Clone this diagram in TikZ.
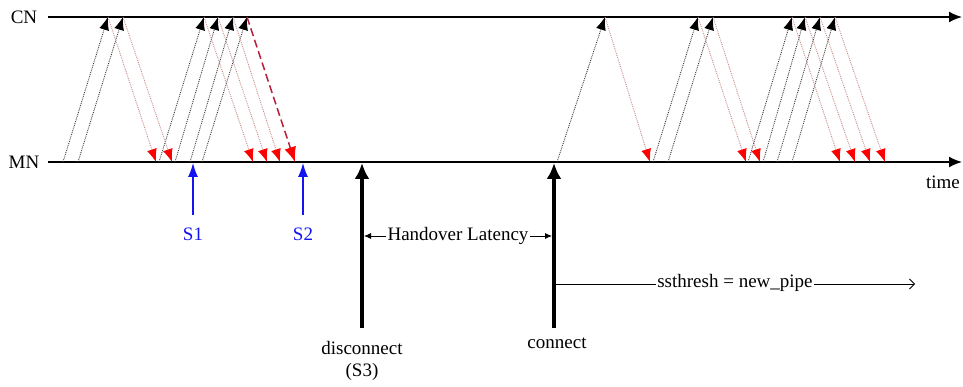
\documentclass[tikz,border=0pt]{standalone}
\usepackage{fontspec}
\setmainfont{Liberation Serif}
\usetikzlibrary{arrows.meta}
\definecolor{ackline}{RGB}{200,140,140}
\definecolor{pktline}{RGB}{60,60,60}
\definecolor{dashred}{RGB}{185,30,60}
\definecolor{myblue}{RGB}{20,20,240}
\begin{document}
\begin{tikzpicture}[x=1pt,y=-1pt,
  every node/.style={font=\fontsize{19}{23}\selectfont, inner sep=1pt},
  axisline/.style={line width=1.8pt, -{Latex[length=13pt,width=11pt]}},
  updot/.style={pktline, line width=0.9pt, densely dotted, -{Latex[length=13pt,width=10pt,black]}},
  downdot/.style={ackline, line width=0.9pt, densely dotted, -{Latex[length=13pt,width=10pt,red]}},
  downdash/.style={dashred, line width=1.5pt, dash pattern=on 8pt off 4pt, -{Latex[length=15pt,width=12pt,red]}},
  bluearrow/.style={myblue, line width=1.2pt, -{Latex[length=14pt,width=10pt]}},
  thickarrow/.style={black, line width=3.6pt, -{Latex[length=16pt,width=15pt]}},
  thinarrow/.style={black, line width=0.8pt, -{Latex[length=7pt,width=6pt]}},
  openarrow/.style={black, line width=0.8pt, -{Straight Barb[length=5pt,width=10pt]}},
  lbl/.style={anchor=center}
]
\useasboundingbox (0,0) rectangle (963,387);
% axes
\node[lbl] (cn) at (24,17) {CN};
\node[lbl] (mn) at (24,162) {MN};
\coordinate (cnA) at (48,17);
\coordinate (cnB) at (962,17);
\coordinate (mnA) at (48,162);
\coordinate (mnB) at (962,162);
\draw[axisline] (cnA) -- (cnB);
\draw[axisline] (mnA) -- (mnB);
\node[lbl] (time) at (943,182) {time};
% data packets MN -> CN
\foreach \a/\b [count=\i] in {63/108,78/123,159/204,175/218,190/233,202/247,557/605,653/698,668/713,748/792,763/805,777/820,792/835}{
  \coordinate (us\i) at (\a,162);
  \coordinate (ue\i) at (\b,17);
  \draw[updot] (us\i) -- (ue\i);
}
% acks CN -> MN
\foreach \a/\b [count=\i] in {108/156,123/172,204/253,218/267,233/280,605/650,698/746,713/760,792/840,805/855,820/870,835/885}{
  \coordinate (ds\i) at (\a,17);
  \coordinate (de\i) at (\b,162);
  \draw[downdot] (ds\i) -- (de\i);
}
\coordinate (dds) at (247,17);
\coordinate (dde) at (295,162);
\draw[downdash] (dds) -- (dde);
% S1, S2
\node[lbl, text=myblue] (s1) at (193,234) {S1};
\node[lbl, text=myblue] (s2) at (303,234) {S2};
\coordinate (s1t) at (193,163);
\coordinate (s2t) at (303,163);
\coordinate (s1b) at (193,215);
\coordinate (s2b) at (303,215);
\draw[bluearrow] (s1b) -- (s1t);
\draw[bluearrow] (s2b) -- (s2t);
% disconnect / connect
\coordinate (dB) at (362,328);
\coordinate (dT) at (362,163);
\coordinate (cB) at (554,328);
\coordinate (cT) at (554,163);
\draw[thickarrow] (dB) -- (dT);
\draw[thickarrow] (cB) -- (cT);
\node[lbl, align=center] (disc) at (362,361) {disconnect\\[-1pt](S3)};
\node[lbl] (conn) at (557,343) {connect};
% handover latency
\node[lbl] (hl) at (458,236) {Handover Latency};
\coordinate (dL) at (364,236);
\coordinate (cL) at (552,236);
\draw[thinarrow] (hl.west) -- (dL);
\draw[thinarrow] (hl.east) -- (cL);
% ssthresh
\node[lbl] (ss) at (735,283) {ssthresh = new\_pipe};
\coordinate (ssA) at (556,284);
\coordinate (ssB) at (915,284);
\draw[black, line width=0.8pt] (ssA) -- (ss.west |- ssA);
\draw[openarrow] (ss.east |- ssB) -- (ssB);
\end{tikzpicture}
\end{document}
